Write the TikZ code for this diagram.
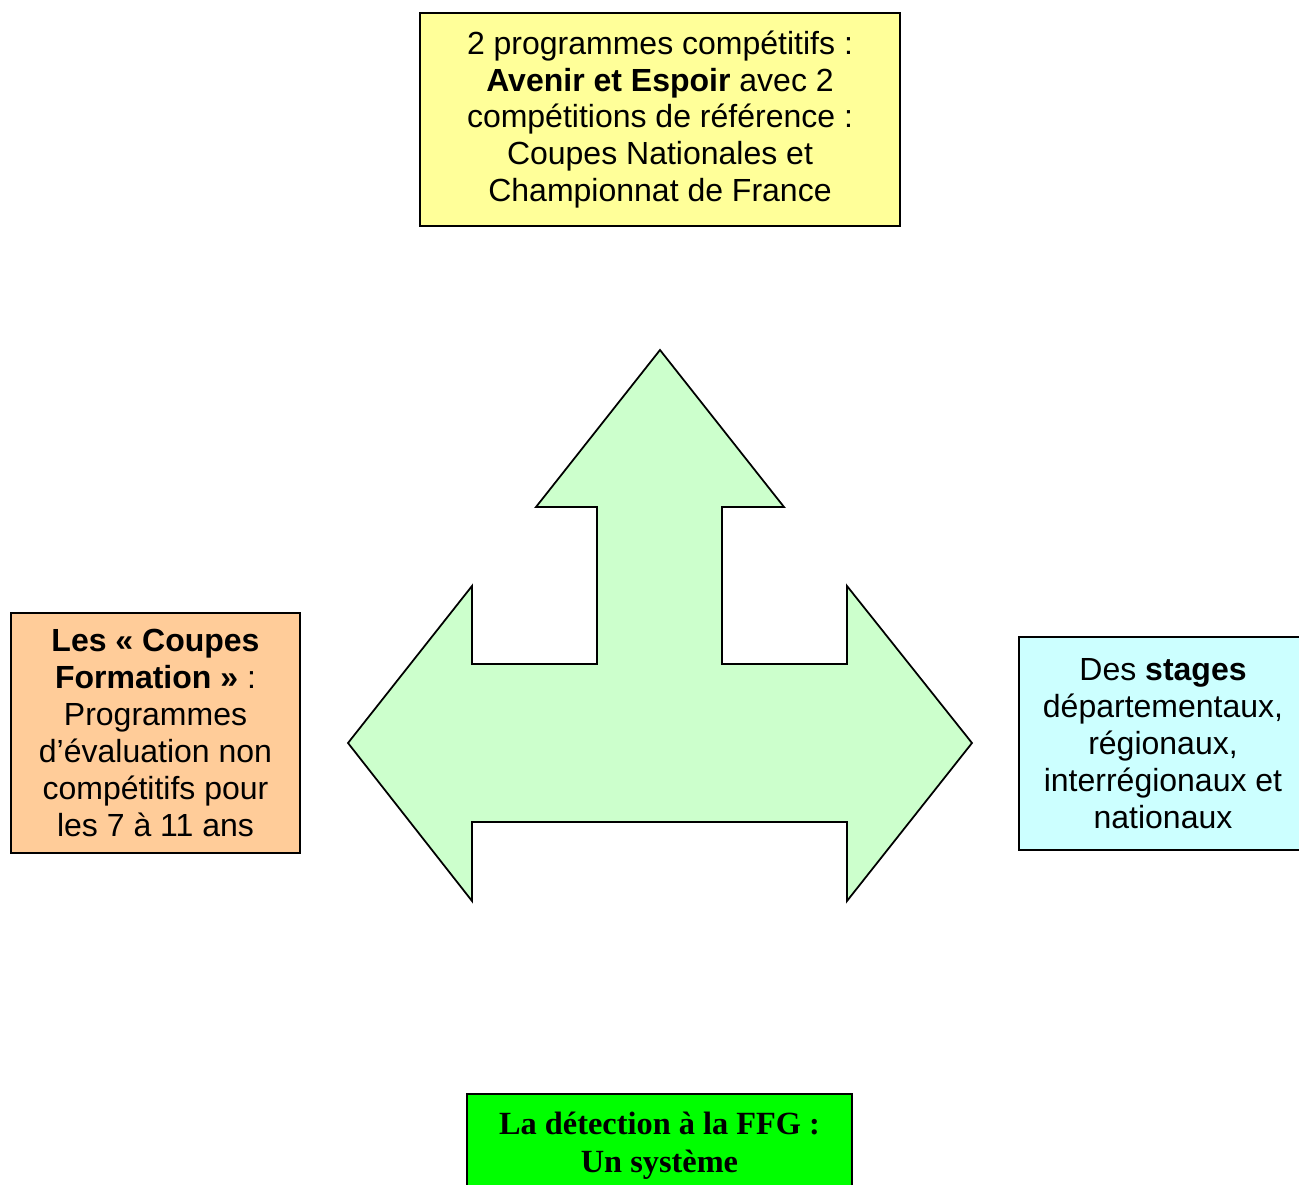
\documentclass[tikz,border=0pt]{standalone}
\usepackage{fontspec}
\setmainfont{Liberation Sans}
\newfontfamily\serifbox{Liberation Serif}
\definecolor{boxyellow}{HTML}{FFFF99}
\definecolor{boxorange}{HTML}{FFCC99}
\definecolor{boxcyan}{HTML}{CCFFFF}
\definecolor{boxgreen}{HTML}{00FF00}
\definecolor{arrowgreen}{HTML}{CCFFCC}
\tikzset{
  infobox/.style={draw, line width=0.5pt, align=center, inner sep=0pt,
    font=\fontsize{9.1}{10.5}\selectfont},
}

\begin{document}
\begin{tikzpicture}[x=0.01cm, y=-0.01cm]
  \useasboundingbox (0,0) rectangle (1299,1185);
  % three-way arrow
  \draw[fill=arrowgreen, line width=0.5pt, line join=miter]
    (660,350) -- (784,507) -- (722,507) -- (722,664) -- (847,664) -- (847,586)
    -- (972,743) -- (847,901) -- (847,822) -- (472,822) -- (472,901)
    -- (348,743) -- (472,586) -- (472,664) -- (597,664) -- (597,507)
    -- (536,507) -- cycle;
  \node[infobox, fill=boxyellow, minimum width=4.8cm, minimum height=2.13cm]
    (prog) at (660,119.5) {2 programmes compétitifs :\\
      \textbf{Avenir et Espoir} avec 2\\
      compétitions de référence :\\
      Coupes Nationales et\\
      Championnat de France};
  \node[infobox, fill=boxorange, minimum width=2.89cm, minimum height=2.4cm]
    (coupes) at (155.5,733) {\textbf{Les « Coupes}\\
      \textbf{Formation »} :\\
      Programmes\\
      d’évaluation non\\
      compétitifs pour\\
      les 7 à 11 ans};
  \node[infobox, fill=boxcyan, minimum width=2.88cm, minimum height=2.13cm]
    (stages) at (1163,743.5) {Des \textbf{stages}\\
      départementaux,\\
      régionaux,\\
      interrégionaux et\\
      nationaux};
  \node[infobox, fill=boxgreen, minimum width=3.85cm, minimum height=1.04cm,
    anchor=north, font=\serifbox\bfseries\fontsize{9.2}{10.8}\selectfont]
    (detect) at (659.5,1093) {La détection à la FFG :\\
      Un système};
\end{tikzpicture}
\end{document}
